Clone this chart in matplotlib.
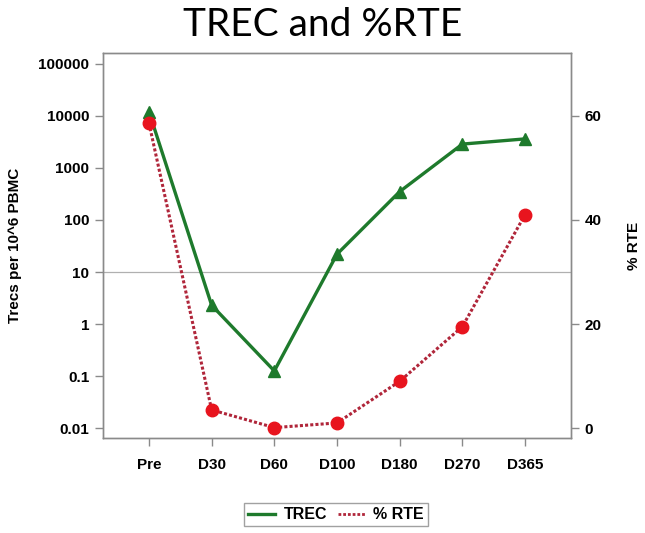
import matplotlib.pyplot as plt
from matplotlib.lines import Line2D

# data
days = ['Pre', 'D30', 'D60', 'D100', 'D180', 'D270', 'D365']
trec = [12000, 2.3, 0.126, 22, 350, 2860, 3600]
rte = [58.6, 3.5, 0.1, 1.0, 9.0, 19.5, 41.0]

green = '#1e7a2c'
red_mk = '#e8141e'
red_ln = '#b0263a'
grey = '#8a8a8a'

fig = plt.figure(figsize=(6.45, 5.33), dpi=100)
ax = fig.add_axes([0.160, 0.178, 0.725, 0.723])
ax2 = ax.twinx()

x = list(range(len(days)))

ax.set_yscale('log')
ax.set_ylim(10 ** -2.19, 10 ** 5.21)
ax.set_xlim(-0.73, 6.73)
ax.axhline(10, color='#b0b0b0', lw=0.9, zorder=0)
ax.plot(x, trec, color=green, lw=2.4, marker='^', ms=9, zorder=3)

ax2.set_ylim(-1.92, 72.1)
ax2.plot(x, rte, color=red_ln, lw=2.2, linestyle=(0, (1, 0.7)),
         marker='o', ms=9, mfc=red_mk, mec=red_mk, zorder=3)

ax.set_yticks([0.01, 0.1, 1, 10, 100, 1000, 10000, 100000])
ax.set_yticklabels(['0.01', '0.1', '1', '10', '100', '1000', '10000', '100000'])
ax.minorticks_off()
ax.set_xticks(x)
ax.set_xticklabels(days)
ax2.set_yticks([0, 20, 40, 60])

tick_font = dict(fontfamily='Liberation Sans', fontweight='bold', fontsize=11)
for a in (ax, ax2):
    for lab in a.get_xticklabels() + a.get_yticklabels():
        lab.set(**tick_font)
    a.tick_params(color=grey, length=6, width=1, pad=4)
    for s in a.spines.values():
        s.set_color(grey)
        s.set_linewidth(1)
ax.tick_params(axis='x', pad=8)

ax.set_ylabel('Trecs per 10^6 PBMC', **tick_font, labelpad=12)
ax2.set_ylabel('% RTE', **tick_font, labelpad=18)

fig.suptitle('TREC and %RTE', x=0.5, y=0.987, fontsize=28, fontfamily='Lato')

handles = [Line2D([], [], color=green, lw=2.4),
           Line2D([], [], color=red_ln, lw=2.0, linestyle=(0, (1, 0.7)))]
leg = fig.legend(handles, ['TREC', '% RTE'], loc='center', bbox_to_anchor=(0.521, 0.034),
                 ncol=2, frameon=True, fancybox=False, handlelength=1.7, columnspacing=0.7,
                 prop=dict(family='Liberation Sans', weight='bold', size=11.5),
                 borderpad=0.25, handletextpad=0.5)
leg.get_frame().set_edgecolor(grey)
leg.get_frame().set_linewidth(1)

fig.savefig('out.png', dpi=100)
